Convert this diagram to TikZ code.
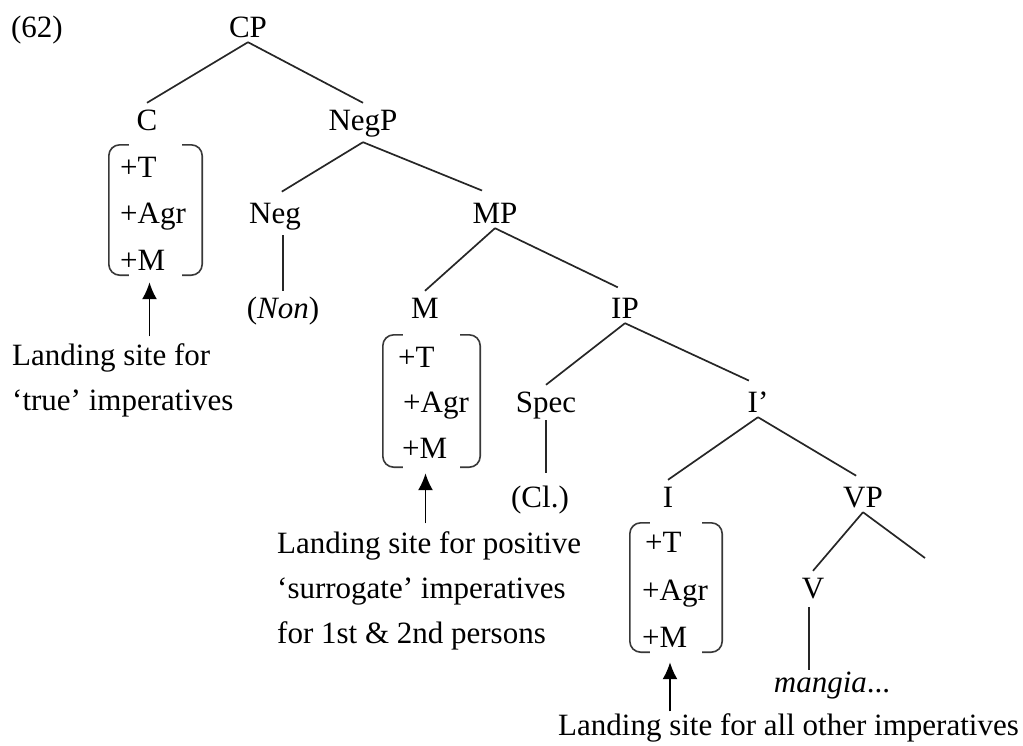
\documentclass[tikz,border=0pt]{standalone}
\usepackage{fontspec}
\setmainfont{Liberation Serif}
\usetikzlibrary{arrows.meta,calc}
\begin{document}
\begin{tikzpicture}[x=1pt,y=-1pt,
  every node/.style={font=\fontsize{31}{45}\selectfont, inner sep=0pt, text=black},
  cat/.style={anchor=base, text height=27pt, text depth=5pt},
  catg/.style={cat, text depth=12pt},
  feat/.style={anchor=base west},
  lab/.style={anchor=base west},
  branch/.style={draw=black!85, line width=1.7pt},
  brk/.style={draw=black!78, line width=1.6pt, rounded corners=11pt},
  brbox/.style={draw=none, rectangle},
  arr/.style={draw=black, line width=1.7pt, -{Latex[length=17pt,width=15pt]}}
]
\useasboundingbox (0,0) rectangle (1023,745);

% example number
\node[cat] (ex) at (37,37) {(62)};

% tree nodes
\node[cat]  (CP)   at (248,37)  {CP};
\node[cat]  (C)    at (147,130) {C};
\node[catg] (NegP) at (363,130) {NegP};
\node[catg] (Neg)  at (275,223) {Neg};
\node[cat]  (MP)   at (495,223) {MP};
\node[cat]  (Non)  at (283,318) {(\textit{Non})};
\node[cat]  (M)    at (425,318) {M};
\node[cat]  (IP)   at (625,318) {IP};
\node[cat]  (Spec) at (546,412) {Spec};
\node[cat]  (Ibar) at (758,412) {I’};
\node[cat]  (Cl)   at (540,507) {(Cl.)};
\node[cat]  (I)    at (668,507) {I};
\node[cat]  (VP)   at (863,507) {VP};
\node[cat]  (V)    at (813,598) {V};
\node[cat]  (mangia) at (832,692) {\textit{mangia}...};
\coordinate (VPr) at (925,558);

% branches
\draw[branch] (CP.south) -- (C.north);
\draw[branch] (CP.south) -- (NegP.north);
\draw[branch, shorten >=8pt] (NegP.south) -- (Neg.north);
\draw[branch, shorten >=14pt] (NegP.south) -- (MP.north);
\draw[branch] (Non.north |- Neg.south) -- (Non.north);
\draw[branch] (MP.south) -- (M.north);
\draw[branch, shorten >=8pt] (MP.south) -- (IP.north);
\draw[branch] (IP.south) -- (Spec.north);
\draw[branch, shorten >=10pt] (IP.south) -- (Ibar.north);
\draw[branch] ($(Spec.south)+(0,3)$) -- ($(Spec.south |- Cl.north)+(0,-7)$);
\draw[branch] (Ibar.south) -- (I.north);
\draw[branch, shorten >=8pt] (Ibar.south) -- (VP.north);
\draw[branch] (VP.south) -- (V.north);
\draw[branch] (VP.south) -- (VPr);
\draw[branch] ($(V.south)+(-4,4)$) -- ($(V.south |- mangia.north)+(-4,5)$);

% feature brackets
\node[brbox, minimum width=93pt, minimum height=130pt] (Cbr) at (155.5,210) {};
\node[brbox, minimum width=97pt, minimum height=132pt] (Mbr) at (431.5,401) {};
\node[brbox, minimum width=92pt, minimum height=129pt] (Ibr) at (676,587.5) {};
\foreach \b in {Cbr,Mbr,Ibr}{
  \draw[brk] ([xshift=20pt]\b.north west) -- (\b.north west) -- (\b.south west) -- ([xshift=20pt]\b.south west);
  \draw[brk] ([xshift=-20pt]\b.north east) -- (\b.north east) -- (\b.south east) -- ([xshift=-20pt]\b.south east);
}

% features
\node[feat] (Ct) at (120,177) {+T};
\node[feat] (Ca) at (120,223) {+Agr};
\node[feat] (Cm) at (120,270) {+M};
\node[feat] (Mt) at (398,367) {+T};
\node[feat] (Ma) at (403,412) {+Agr};
\node[feat] (Mm) at (402,458) {+M};
\node[feat] (It) at (645,552) {+T};
\node[feat] (Ia) at (642,600) {+Agr};
\node[feat] (Im) at (642,647) {+M};

% landing-site labels
\node[lab] (Clab) at (12,365) {\begin{tabular}[t]{@{}l@{}}Landing site for\\‘true’ imperatives\end{tabular}};
\node[lab] (Mlab) at (277,553) {\begin{tabular}[t]{@{}l@{}}Landing site for positive\\‘surrogate’ imperatives\\for 1st \& 2nd persons\end{tabular}};
\node[lab] (Ilab) at (558,735) {\begin{tabular}[t]{@{}l@{}}Landing site for all other imperatives\end{tabular}};

% arrows
\draw[arr] ($(Cbr.south |- Clab.north)+(-6,3)$) -- ($(Cbr.south)+(-6,7)$);
\draw[arr] ($(Mbr.south |- Mlab.north)+(-6,2)$) -- ($(Mbr.south)+(-6,6)$);
\draw[arr] ($(Ibr.south |- Ilab.north)+(-6,8)$) -- ($(Ibr.south)+(-6,10)$);
\end{tikzpicture}
\end{document}
